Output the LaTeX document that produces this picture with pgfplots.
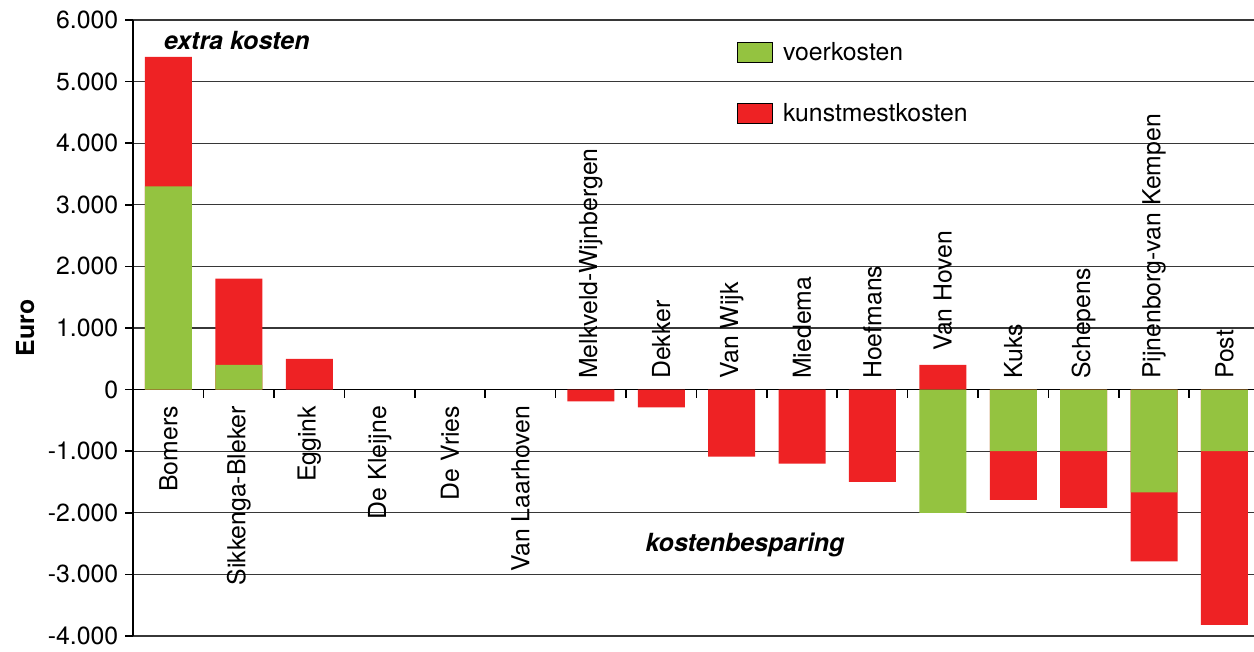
\documentclass[border=0pt]{standalone}
\usepackage{fontspec}
\setmainfont{TeX Gyre Heros}
\usepackage{pgfplots}
\pgfplotsset{compat=1.18}
\definecolor{voer}{RGB}{148,195,64}
\definecolor{kunst}{RGB}{238,34,36}
\definecolor{gridc}{RGB}{55,55,55}
\newcommand{\lab}{\fontsize{12.4}{14}\selectfont}
\begin{document}
\begin{tikzpicture}
\begin{axis}[
  scale only axis, width=560.35pt, height=308pt,
  xmin=-0.5, xmax=15.42, ymin=-4000, ymax=6000,
  axis x line*=middle, axis y line*=left,
  hide obscured x ticks=false, hide obscured y ticks=false,
  axis line style={black, line width=0.8pt, -},
  xtick={-0.5,0.5,...,14.5}, xticklabels={},
  xtick align=outside, ytick align=outside,
  major tick length=4pt,
  tick style={black, line width=0.8pt},
  ytick={-4000,-3000,...,6000},
  ymajorgrids, grid style={gridc, line width=0.6pt},
  ticklabel style={font=\lab},
  /pgf/number format/assume math mode=true,
  yticklabel style={/pgf/number format/.cd, 1000 sep={.}},
  ybar, bar shift=0pt, bar width=23.5pt,
  legend style={at={(0.538,0.971)}, anchor=north west, draw=none, fill=none,
    font=\lab, row sep=16pt, inner sep=0pt,
    /tikz/every odd column/.append style={column sep=3.3pt}},
  legend cell align=left,
  legend image code/.code={\fill[#1] (0pt,-5pt) rectangle (17.5pt,5pt);},
]
\addlegendimage{fill=voer}
\addlegendentry{voerkosten}
\addlegendimage{fill=kunst}
\addlegendentry{kunstmestkosten}
% kunstmestkosten (bar end, drawn from zero)
\addplot[fill=kunst, draw=none, forget plot] coordinates {
(0,5400) (1,1800) (2,500) (6,-190) (7,-290) (8,-1090) (9,-1200) (10,-1500)
(11,400) (12,-1790) (13,-1920) (14,-2790) (15,-3820)};
% voerkosten
\addplot[fill=voer, draw=none, forget plot] coordinates {
(0,3300) (1,400) (11,-2000) (12,-1000) (13,-1000) (14,-1670) (15,-1000)};
% category labels
\begin{scope}[every node/.style={rotate=90, inner sep=0pt, font=\lab}]
\node[anchor=east] at (axis cs:0,-260) {Bomers};
\node[anchor=east] at (axis cs:1,-260) {Sikkenga-Bleker};
\node[anchor=east] at (axis cs:2,-260) {Eggink};
\node[anchor=east] at (axis cs:3,-260) {De Kleijne};
\node[anchor=east] at (axis cs:4,-260) {De Vries};
\node[anchor=east] at (axis cs:5,-260) {Van Laarhoven};
\node[anchor=west] at (axis cs:6,170) {Melkveld-Wijnbergen};
\node[anchor=west] at (axis cs:7,170) {Dekker};
\node[anchor=west] at (axis cs:8,170) {Van Wijk};
\node[anchor=west] at (axis cs:9,170) {Miedema};
\node[anchor=west] at (axis cs:10,170) {Hoefmans};
\node[anchor=west] at (axis cs:11,620) {Van Hoven};
\node[anchor=west] at (axis cs:12,170) {Kuks};
\node[anchor=west] at (axis cs:13,170) {Schepens};
\node[anchor=west] at (axis cs:14,170) {Pijnenborg-van Kempen};
\node[anchor=west] at (axis cs:15,170) {Post};
\end{scope}
\node[font=\fontsize{12.5}{14}\selectfont\bfseries\itshape] at (axis cs:0.97,5660) {extra kosten};
\node[font=\fontsize{12.5}{14}\selectfont\bfseries\itshape] at (axis cs:8.19,-2530) {kostenbesparing};
\end{axis}
\node[font=\lab\bfseries, rotate=90] at ([xshift=-54pt]current axis.west) {Euro};
\pgfresetboundingbox
\path ([xshift=-66.65pt,yshift=-8pt]current axis.south west) rectangle ([yshift=10pt]current axis.north east);
\end{tikzpicture}
\end{document}
